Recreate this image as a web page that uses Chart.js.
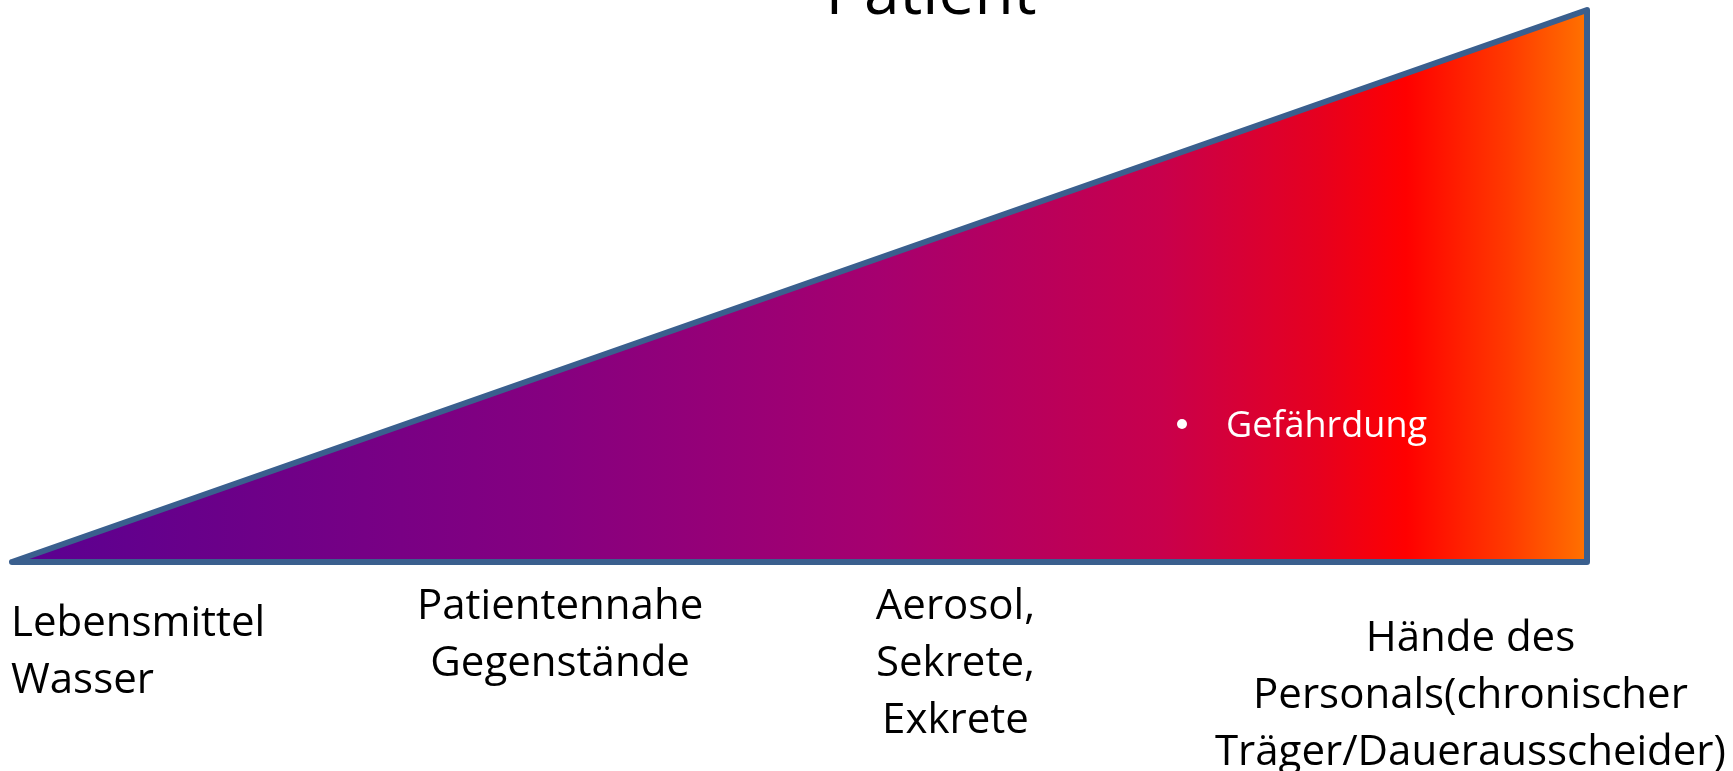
<!DOCTYPE html>
<html>
<head>
<meta charset="utf-8">
<script src="https://cdn.jsdelivr.net/npm/chart.js@4"></script>
<style>
  html, body { margin: 0; padding: 0; background: #ffffff; overflow: hidden; }
  canvas { display: block; }
</style>
</head>
<body>
<canvas id="c" width="1733" height="771"></canvas>
<script>
// ---- data ----
const titleText = "Patient";
const categories = [
  ["Lebensmittel", "Wasser"],
  ["Patientennahe", "Gegenstände"],
  ["Aerosol,", "Sekrete,", "Exkrete"],
  ["Hände des", "Personals(chronischer", "Träger/Dauerausscheider)"]
];
const riskLabel = "Gefährdung";
// triangle outline (transmission path → risk rises from left to right)
const riskX = [0, 100, 100, 0];
const riskY = [0, 0, 100, 0];

// ---- styles ----
const FONT = "'Open Sans', 'Noto Sans', sans-serif";
const borderBlue = "#3A5F8E";
const gradientStops = [
  [0.00, "#5A0092"],
  [0.13, "#6A0089"],
  [0.34, "#850080"],
  [0.55, "#A6006F"],
  [0.73, "#C8004C"],
  [0.83, "#E6001F"],
  [0.885, "#FF0000"],
  [0.95, "#FF3A00"],
  [1.00, "#FF7200"]
];

const points = riskX.map((x, i) => ({ x: x, y: riskY[i] }));

const textPlugin = {
  id: "textPlugin",
  afterDraw(chart) {
    const ctx = chart.ctx;
    const xs = chart.scales.x;
    ctx.save();
    ctx.fillStyle = "#000000";
    ctx.textBaseline = "alphabetic";

    // title (partly cut at top as in the original)
    ctx.font = "64px " + FONT;
    ctx.textAlign = "center";
    ctx.fillText(titleText, 931, 14);

    // category labels under the base line
    const anchors = [
      { v: 0, align: "left", base: 636, dx: -1 },
      { v: 34.8, align: "center", base: 619, dx: 0 },
      { v: 59.9, align: "center", base: 619, dx: 0 },
      { v: 92.6, align: "center", base: 651, dx: 0 }
    ];
    ctx.font = "42px " + FONT;
    categories.forEach((lines, i) => {
      const a = anchors[i];
      const px = xs.getPixelForValue(a.v) + a.dx;
      ctx.textAlign = a.align;
      lines.forEach((ln, j) => {
        ctx.fillText(ln, px, a.base + j * 57);
      });
    });

    // bullet + label inside the triangle
    ctx.fillStyle = "#ffffff";
    ctx.font = "36px " + FONT;
    ctx.textAlign = "left";
    ctx.fillText(riskLabel, 1226, 437);
    ctx.beginPath();
    ctx.arc(1182, 424, 5, 0, Math.PI * 2);
    ctx.fill();
    ctx.restore();
  }
};

new Chart(document.getElementById("c"), {
  type: "scatter",
  data: {
    datasets: [{
      data: points,
      showLine: true,
      fill: "shape",
      clip: false,
      tension: 0,
      pointRadius: 0,
      borderWidth: 6,
      borderColor: borderBlue,
      borderJoinStyle: "round",
      borderCapStyle: "round",
      backgroundColor: (c) => {
        const chart = c.chart;
        const a = chart.chartArea;
        if (!a) return "#A0006E";
        const g = chart.ctx.createLinearGradient(a.left, 0, a.right, 0);
        gradientStops.forEach(s => g.addColorStop(s[0], s[1]));
        return g;
      }
    }]
  },
  options: {
    responsive: false,
    animation: false,
    events: [],
    layout: { padding: { left: 12, right: 146, top: 10, bottom: 209 } },
    plugins: { legend: { display: false }, tooltip: { enabled: false }, title: { display: false } },
    scales: {
      x: { type: "linear", min: 0, max: 100, display: false },
      y: { type: "linear", min: 0, max: 100, display: false }
    }
  },
  plugins: [textPlugin]
});
</script>
</body>
</html>
